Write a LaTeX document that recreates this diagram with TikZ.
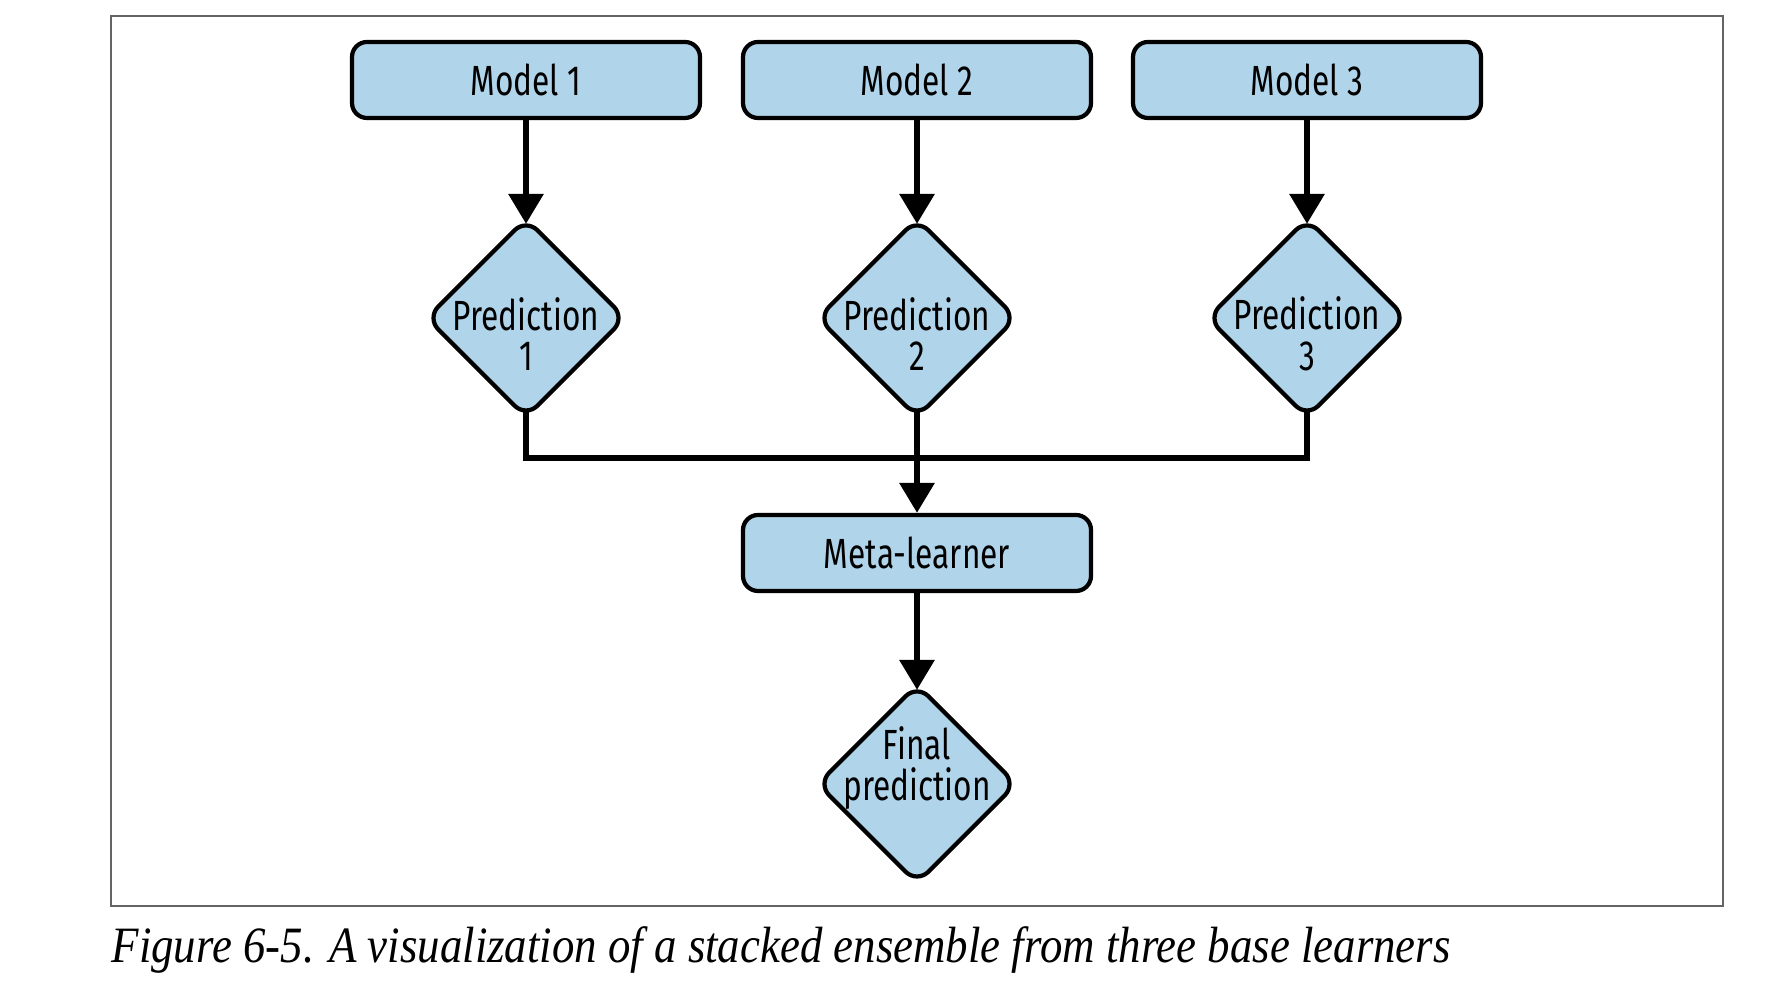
\documentclass[tikz,border=0pt]{standalone}
\usepackage{fontspec}
\newfontfamily\diagfont[FakeStretch=0.75]{Fira Sans}
\newfontfamily\capfont[FakeStretch=0.88]{Liberation Serif}
\usepackage{tikz}
\usetikzlibrary{shapes.geometric,arrows.meta,positioning}
\usepackage{xcolor}
\definecolor{boxblue}{RGB}{176,212,234}
\definecolor{framegray}{RGB}{100,100,100}
\tikzset{
  modelbox/.style={draw, line width=1.2pt, fill=boxblue, rounded corners=0.15cm, minimum width=3.48cm, minimum height=0.76cm, font=\diagfont\fontsize{12}{12}\selectfont},
  predbox/.style={draw, line width=1.2pt, fill=boxblue, diamond, rounded corners=0.16cm, minimum width=2.0cm, minimum height=2.0cm, inner sep=0pt},
  predtext/.style={align=center, inner sep=0pt, font=\diagfont\fontsize{12}{11.5}\selectfont},
  fleche/.style={line width=1.8pt, -{Triangle[length=0.3cm,width=0.34cm]}},
  trait/.style={line width=1.8pt}
}

\begin{document}
\begin{tikzpicture}

\useasboundingbox (0,0) rectangle (17.81,10);

% cadre
\draw[framegray, line width=0.7pt] (1.11,0.94) rectangle (17.23,9.84);

% models
\node[modelbox] (m1) at (5.26,9.20) {Model 1};
\node[modelbox] (m2) at (9.17,9.20) {Model 2};
\node[modelbox] (m3) at (13.07,9.20) {Model 3};

% predictions
\node[predbox] (p1) at (5.26,6.82) {};
\node[predbox] (p2) at (9.17,6.82) {};
\node[predbox] (p3) at (13.07,6.82) {};
\node[predtext] (t1) at (5.26,6.66) {Prediction\\1};
\node[predtext] (t2) at (9.17,6.66) {Prediction\\2};
\node[predtext] (t3) at (13.07,6.66) {Prediction\\3};

\draw[fleche, shorten >=-0.08cm] (m1) -- (p1);
\draw[fleche, shorten >=-0.08cm] (m2) -- (p2);
\draw[fleche, shorten >=-0.08cm] (m3) -- (p3);

% meta-learner
\node[modelbox] (meta) at (9.17,4.47) {Meta-learner};
\coordinate (join) at (9.17,5.42);
\draw[trait, shorten <=-0.09cm] (p1.south) |- (join);
\draw[trait, shorten <=-0.09cm] (p3.south) |- (join);
\draw[fleche, shorten <=-0.09cm] (p2.south) -- (meta.north);

% final
\node[predbox] (fin) at (9.17,2.16) {};
\node[predtext] (tfin) at (9.17,2.32) {Final\\prediction};
\draw[fleche, shorten >=-0.08cm] (meta) -- (fin);

% texte
\node[anchor=base west, inner sep=0pt, font=\capfont\itshape\fontsize{14.5}{16}\selectfont] (caption) at (1.11,0.37) {Figure 6-5. A visualization of a stacked ensemble from three base learners};

\end{tikzpicture}
\end{document}
